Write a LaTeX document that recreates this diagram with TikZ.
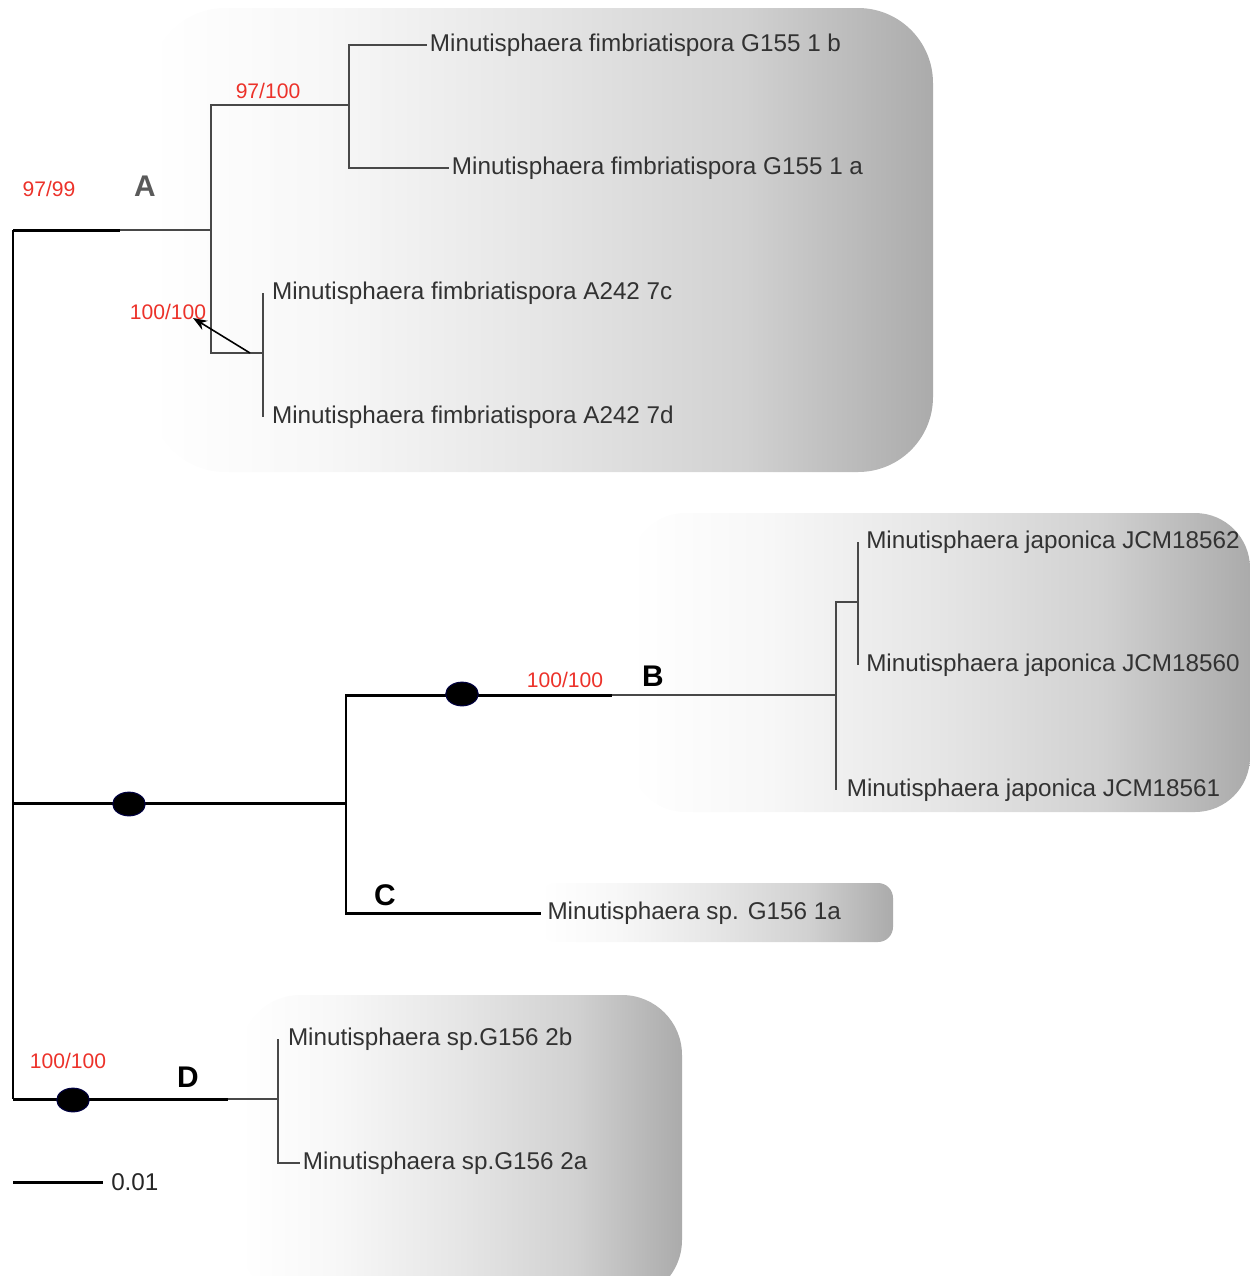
\documentclass[tikz,border=0pt]{standalone}
\usepackage{fontspec}
\setmainfont{Liberation Sans}
\usetikzlibrary{arrows.meta,positioning,shapes.geometric}

\definecolor{bsred}{RGB}{236,50,42}
\definecolor{leafgray}{RGB}{50,50,50}
\definecolor{branchgray}{RGB}{72,72,72}
\pgfdeclarehorizontalshading{cladebg}{100bp}{color(0bp)=(white); color(25bp)=(white); color(36bp)=(white!97!black); color(50bp)=(white!90!black); color(63bp)=(white!82!black); color(75bp)=(white!67!black); color(100bp)=(white!67!black)}

\begin{document}
\begin{tikzpicture}[
  x=0.02cm, y=-0.02cm,
  leaf/.style={anchor=west, inner sep=1.5pt, text=leafgray, font=\fontsize{13.8}{16}\selectfont},
  bsval/.style={text=bsred, inner sep=1pt, font=\fontsize{12}{14}\selectfont},
  clade/.style={inner sep=1pt, font=\fontsize{17}{19}\selectfont\bfseries},
  blk/.style={line width=1.7pt, black},
  gry/.style={line width=1.5pt, branchgray},
  pprob/.style={ellipse, fill=black, draw=blue!25!black, line width=0.6pt, minimum width=18.5pt, minimum height=13.5pt, inner sep=0pt},
  cladebox/.style={shading=cladebg}
]
\useasboundingbox (0,0) rectangle (1250,1276);

% shaded clade boxes
\shade[cladebox, rounded corners=1.5cm] (150,8) rectangle (933,472);
\shade[cladebox, rounded corners=1.1cm] (630,513) rectangle (1250,812);
\shade[cladebox, rounded corners=0.3cm] (540,883) rectangle (893,942);
\shade[cladebox, rounded corners=1.2cm] (240,995) rectangle (682,1300);

% internal nodes
\coordinate (rtop) at (13,230);
\coordinate (rmid) at (13,803);
\coordinate (rbot) at (13,1099);
\coordinate (stemA) at (120,230);
\coordinate (nA) at (211,230);
\coordinate (nA1) at (349,105);
\coordinate (nA2) at (263,353);
\coordinate (nBC) at (346,803);
\coordinate (stemB) at (612,695);
\coordinate (nB) at (836,695);
\coordinate (nB1) at (858,602);
\coordinate (stemD) at (228,1099);
\coordinate (nD) at (278,1099);
\coordinate (arrtip) at (193,318);
\coordinate (arrbase) at (250,353);
\coordinate (scl) at (13,1182);

% leaves
\node[leaf] (g155b) at (427,45) {Minutisphaera fimbriatispora G155 1 b};
\node[leaf] (g155a) at (449,168) {Minutisphaera fimbriatispora G155 1 a};
\node[leaf, inner sep=5pt] (a242c) at (263,293) {Minutisphaera fimbriatispora A242 7c};
\node[leaf, inner sep=5pt] (a242d) at (263,417) {Minutisphaera fimbriatispora A242 7d};
\node[leaf, inner sep=4.5pt] (jcm62) at (858,542) {Minutisphaera japonica JCM18562};
\node[leaf, inner sep=4.5pt] (jcm60) at (858,665) {Minutisphaera japonica JCM18560};
\node[leaf, inner sep=6pt] (jcm61) at (836,790) {Minutisphaera japonica JCM18561};
\node[leaf, inner sep=3.5pt] (g1561a) at (541,913) {Minutisphaera sp. G156 1a};
\node[leaf, inner sep=5.5pt] (g1562b) at (278,1039) {Minutisphaera sp.G156 2b};
\node[leaf] (g1562a) at (300,1163) {Minutisphaera sp.G156 2a};
\node[leaf, inner sep=4.5pt, text=black!85] (scltxt) at (103,1182) {0.01};

% support values and clade letters
\node[bsval] (bsA1) at (268,91) {97/100};
\node[bsval] (bsroot) at (49,189) {97/99};
\node[bsval] (bsA2) at (168,312) {100/100};
\node[bsval] (bsB) at (565,680) {100/100};
\node[bsval] (bsD) at (68,1061) {100/100};
\node[clade, text=branchgray!90!white] (labA) at (145,186) {A};
\node[clade] (labB) at (653,676) {B};
\node[clade] (labC) at (385,895) {C};
\node[clade] (labD) at (188,1077) {D};

% branches
\draw[blk] (rtop) -- (rbot);
\draw[gry] (stemA) -- (nA);
\draw[blk] (rtop) -- (stemA);
\draw[gry] (nA) |- (nA1);
\draw[gry] (nA) |- (nA2);
\draw[gry] (nA1) |- (g155b.west);
\draw[gry] (nA1) |- (g155a.west);
\draw[gry] (nA2) |- (a242c.west);
\draw[gry] (nA2) |- (a242d.west);
\draw[blk] (rmid) -- (nBC);
\draw[blk] (nBC) |- (stemB);
\draw[gry] (stemB) -- (nB);
\draw[gry] (nB) |- (nB1);
\draw[gry] (nB) |- (jcm61.west);
\draw[gry] (nB1) |- (jcm62.west);
\draw[gry] (nB1) |- (jcm60.west);
\draw[blk] (nBC) |- (g1561a.west);
\draw[blk] (rbot) -- (stemD);
\draw[gry] (stemD) -- (nD);
\draw[gry] (nD) |- (g1562b.west);
\draw[gry] (nD) |- (g1562a.west);
\draw[blk] (scl) -- (scltxt.west);
\draw[-{Stealth[length=8pt,width=6pt]}, line width=0.9pt] (arrbase) -- (arrtip);

% posterior probability marks
\node[pprob] (ppBC) at (129,804) {};
\node[pprob] (ppB) at (462,694) {};
\node[pprob] (ppD) at (73,1100) {};
\end{tikzpicture}
\end{document}
